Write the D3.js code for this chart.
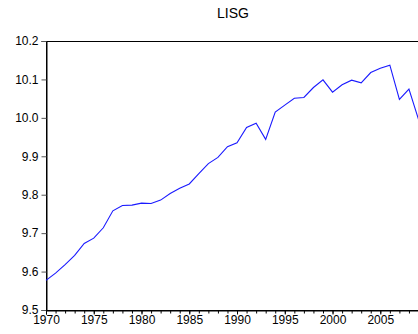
<!DOCTYPE html>
<html>
<head>
<meta charset="utf-8">
<script src="https://cdn.jsdelivr.net/npm/d3@7"></script>
<style>
  html, body { margin: 0; padding: 0; background: #fff; }
  svg { display: block; font-family: "Liberation Sans", Arial, sans-serif; }
</style>
</head>
<body>
<div id="chart"></div>
<script>
// LISG series
const years = [
  1970, 1971, 1972, 1973, 1974, 1975, 1976, 1977, 1978, 1979,
  1980, 1981, 1982, 1983, 1984, 1985, 1986, 1987, 1988, 1989,
  1990, 1991, 1992, 1993, 1994, 1995, 1996, 1997, 1998, 1999,
  2000, 2001, 2002, 2003, 2004, 2005, 2006, 2007, 2008, 2009
];
const lisg = [
  9.577, 9.596, 9.618, 9.642, 9.673, 9.687, 9.714, 9.758, 9.772, 9.773,
  9.778, 9.777, 9.786, 9.803, 9.817, 9.828, 9.855, 9.881, 9.897, 9.925,
  9.935, 9.975, 9.986, 9.944, 10.015, 10.033, 10.051, 10.053, 10.079, 10.099,
  10.067, 10.086, 10.098, 10.091, 10.118, 10.129, 10.137, 10.048, 10.075, 9.996
];
const yTicks = [9.5, 9.6, 9.7, 9.8, 9.9, 10.0, 10.1, 10.2];
const xMajorTicks = [1970, 1975, 1980, 1985, 1990, 1995, 2000, 2005];
const chartTitle = "LISG";

const W = 418, H = 334;
const margin = { top: 41, left: 46, right: -0.5, bottom: 24 };
const plotRight = W - margin.right;
const plotBottom = H - margin.bottom;

const svg = d3.select("#chart").append("svg")
  .attr("width", W)
  .attr("height", H);

const x = d3.scaleLinear()
  .domain([1970, 2009])
  .range([margin.left, plotRight]);
const y = d3.scaleLinear()
  .domain([9.5, 10.2])
  .range([plotBottom, margin.top]);

// Title
svg.append("text")
  .attr("x", 233)
  .attr("y", 18)
  .attr("text-anchor", "middle")
  .attr("font-size", "14px")
  .attr("fill", "#000")
  .text(chartTitle);

// Frame (right edge falls just outside the window, as in the source)
svg.append("rect")
  .attr("x", margin.left + 0.5)
  .attr("y", margin.top + 0.5)
  .attr("width", plotRight - margin.left + 2)
  .attr("height", plotBottom - margin.top)
  .attr("fill", "none")
  .attr("stroke", "#000")
  .attr("stroke-width", 1);

// Y axis
const yAxis = d3.axisLeft(y)
  .tickValues(yTicks)
  .tickSize(5)
  .tickPadding(3)
  .tickFormat(d3.format(".1f"));
const gy = svg.append("g")
  .attr("transform", `translate(${margin.left + 0.5},0)`)
  .call(yAxis);
gy.select(".domain").attr("stroke", "#000");
gy.selectAll(".tick line").attr("stroke", "#555");
gy.selectAll(".tick text")
  .attr("font-size", "12px")
  .attr("font-family", "Liberation Sans, Arial, sans-serif")
  .attr("fill", "#000");

// X axis: minor yearly ticks, then labelled 5-year ticks
const gxMinor = svg.append("g")
  .attr("transform", `translate(0,${plotBottom + 0.5})`)
  .call(d3.axisBottom(x).tickValues(years).tickSize(3).tickFormat(""));
gxMinor.select(".domain").remove();
gxMinor.selectAll(".tick line").attr("stroke", "#000");

const gx = svg.append("g")
  .attr("transform", `translate(0,${plotBottom + 0.5})`)
  .call(d3.axisBottom(x).tickValues(xMajorTicks).tickSize(4).tickPadding(1).tickFormat(d3.format("d")));
gx.select(".domain").attr("stroke", "#000");
gx.selectAll(".tick line").attr("stroke", "#000");
gx.selectAll(".tick text")
  .attr("font-size", "12px")
  .attr("font-family", "Liberation Sans, Arial, sans-serif")
  .attr("fill", "#000");

// Series line
const line = d3.line()
  .x((d, i) => x(years[i]))
  .y(d => y(d));
svg.append("path")
  .datum(lisg)
  .attr("d", line)
  .attr("fill", "none")
  .attr("stroke", "#1a1aff")
  .attr("stroke-width", 1.1);
</script>
</body>
</html>
